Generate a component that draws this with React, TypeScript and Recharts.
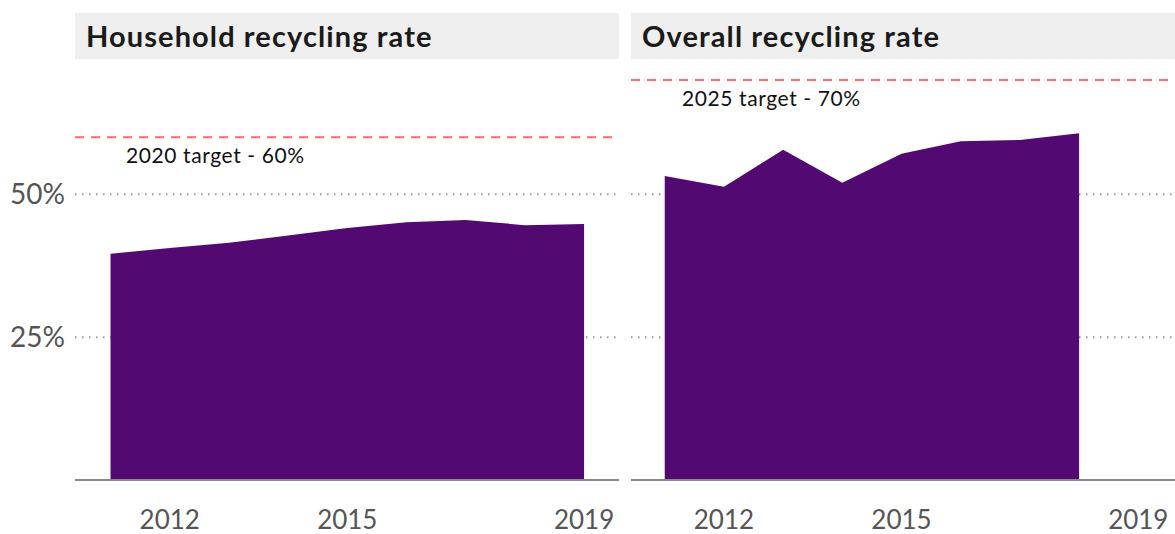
import React from "react";
import { AreaChart, Area, XAxis, YAxis, CartesianGrid, ReferenceLine, Label } from "recharts";

const years = [2011, 2012, 2013, 2014, 2015, 2016, 2017, 2018, 2019];
const householdRate = [39.6, 40.6, 41.5, 42.8, 44.1, 45.1, 45.5, 44.6, 44.8];
const overallRate = [53.2, 51.3, 57.8, 52.0, 57.1, 59.3, 59.5, 60.7];
const yearTicks = [2012, 2015, 2019];
const rateTicks = [25, 50];
const householdTarget = { value: 60, label: "2020 target - 60%" };
const overallTarget = { value: 70, label: "2025 target - 70%" };

const householdData = years.map((year, i) => ({ year, rate: householdRate[i] }));
const overallData = years
  .slice(0, overallRate.length)
  .map((year, i) => ({ year, rate: overallRate[i] }));

const PURPLE = "#520a72";
const FONT = "Lato, 'Open Sans', sans-serif";

const xTickStyle = { fontSize: 26, fill: "#555", fontFamily: FONT, fontWeight: 400 };
const yTickStyle = { fontSize: 28, fill: "#555", fontFamily: FONT, fontWeight: 400 };

function targetLabel(text: string) {
  return (props: any) => {
    const vb = props.viewBox || {};
    return (
      <text
        x={(vb.x || 0) + 51}
        y={(vb.y || 0) + 26}
        fontSize={21}
        letterSpacing={0.6}
        fill="#111"
        fontFamily={FONT}
      >
        {text}
      </text>
    );
  };
}

function Title({ left, text }: { left: number; text: string }) {
  return (
    <div
      style={{
        position: "absolute",
        left,
        top: 13,
        width: 544,
        height: 46,
        lineHeight: "46px",
        background: "#efefef",
        boxSizing: "border-box",
        paddingLeft: 11,
        fontFamily: FONT,
        fontWeight: 700,
        fontSize: 29,
        letterSpacing: 1.1,
        color: "#1a1a1a",
      }}
    >
      {text}
    </div>
  );
}

function Panel({
  data,
  target,
  showY,
  domain,
}: {
  data: { year: number; rate: number }[];
  target: { value: number; label: string };
  showY: boolean;
  domain: [number, number];
}) {
  return (
    <AreaChart
      width={showY ? 619 : 544}
      height={534}
      data={data}
      margin={{ top: 80, right: 0, bottom: 0, left: 0 }}
    >
      <CartesianGrid
        vertical={false}
        horizontalValues={rateTicks}
        stroke="#999"
        strokeWidth={2}
        strokeDasharray="1.5 5.5"
      />
      <XAxis
        dataKey="year"
        type="number"
        domain={domain}
        ticks={yearTicks}
        allowDataOverflow
        height={54}
        tickLine={false}
        tickSize={0}
        tickMargin={31}
        axisLine={{ stroke: "#8a8a8a", strokeWidth: 2 }}
        tick={xTickStyle}
      />
      <YAxis
        type="number"
        domain={[0, 70]}
        ticks={rateTicks}
        hide={!showY}
        width={75}
        axisLine={false}
        tickLine={false}
        tickSize={0}
        tickMargin={10}
        tick={yTickStyle}
        tickFormatter={(v: number) => `${v}%`}
      />
      <Area
        type="linear"
        dataKey="rate"
        fill={PURPLE}
        fillOpacity={1}
        stroke="none"
        isAnimationActive={false}
      />
      <ReferenceLine
        y={target.value}
        stroke="#ff6b6b"
        strokeWidth={2}
        strokeDasharray="9 7"
        ifOverflow="visible"
      >
        <Label content={targetLabel(target.label)} />
      </ReferenceLine>
    </AreaChart>
  );
}

export default function App() {
  return (
    <div
      style={{
        position: "absolute",
        left: 0,
        top: 0,
        width: 1175,
        height: 534,
        background: "#fff",
        overflow: "hidden",
      }}
    >
      <div style={{ position: "absolute", left: 0, top: 0 }}>
        <Panel data={householdData} target={householdTarget} showY domain={[2010.4, 2019.59]} />
      </div>
      <div style={{ position: "absolute", left: 631, top: 0 }}>
        <Panel data={overallData} target={overallTarget} showY={false} domain={[2010.43, 2019.62]} />
      </div>
      <Title left={75} text="Household recycling rate" />
      <Title left={631} text="Overall recycling rate" />
    </div>
  );
}
